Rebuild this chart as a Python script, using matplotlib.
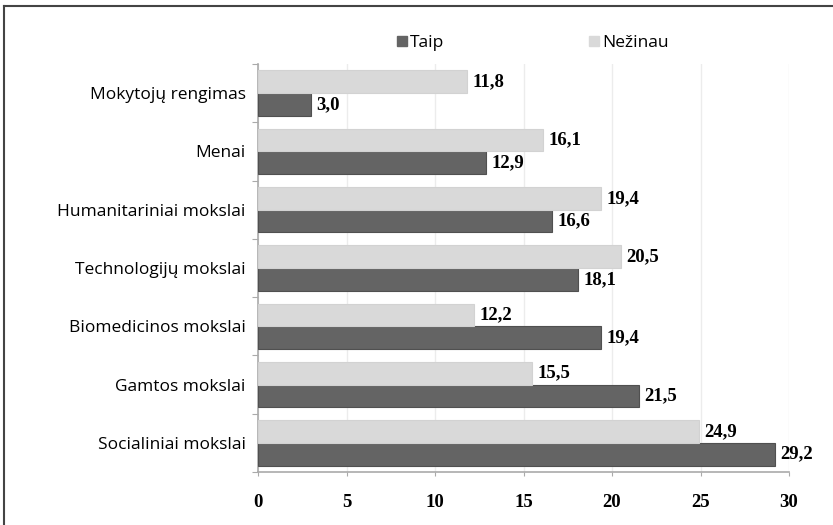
import numpy as np
import matplotlib
matplotlib.use("Agg")
import matplotlib.pyplot as plt
from matplotlib.lines import Line2D

categories = ["Socialiniai mokslai", "Gamtos mokslai", "Biomedicinos mokslai",
              "Technologijų mokslai", "Humanitariniai mokslai", "Menai",
              "Mokytojų rengimas"]
taip = [29.2, 21.5, 19.4, 18.1, 16.6, 12.9, 3.0]
nezinau = [24.9, 15.5, 12.2, 20.5, 19.4, 16.1, 11.8]
xticks = [0, 5, 10, 15, 20, 25, 30]

dark = "#646464"
light = "#d9d9d9"

W, H = 833, 525
fig = plt.figure(figsize=(W / 100, H / 100), dpi=100)
# axes box in pixels: x 258..789, y 64..472
ax = fig.add_axes([258 / W, 1 - 472 / H, (789 - 258) / W, (472 - 64) / H])

y = np.arange(len(categories))
h = 0.39
ax.barh(y - h / 2, taip, height=h, color=dark, edgecolor="#505050", linewidth=0.8,
        label="Taip", zorder=3)
ax.barh(y + h / 2, nezinau, height=h, color=light, edgecolor="#d2d2d2", linewidth=0.8,
        label="Nežinau", zorder=3)

vfont = dict(family="Liberation Serif", weight="bold", size=13.5)
for i in range(len(categories)):
    ax.text(taip[i] + 0.3, y[i] - h / 2, f"{taip[i]:.1f}".replace(".", ","),
            va="center", ha="left", **vfont)
    ax.text(nezinau[i] + 0.3, y[i] + h / 2, f"{nezinau[i]:.1f}".replace(".", ","),
            va="center", ha="left", **vfont)

ax.set_xlim(0, 30)
ax.set_ylim(-0.5, len(categories) - 0.5)
ax.set_xticks(xticks)
ax.set_xticklabels([str(t) for t in xticks], fontfamily="Liberation Serif",
                   fontweight="bold", fontsize=13.5)
ax.set_yticks(np.arange(-0.5, len(categories), 1), minor=False)
ax.set_yticklabels([])
ax.set_yticks(y, minor=True)
ax.set_yticklabels(categories, minor=True, fontfamily="Open Sans", fontsize=12.5)
ax.tick_params(axis="y", which="minor", length=0, pad=9)
ax.tick_params(axis="y", which="major", length=4, color="#aaaaaa", direction="out")
ax.tick_params(axis="x", length=3, color="#aaaaaa", pad=13)
ax.grid(axis="x", color="#ececec", linewidth=1, zorder=0)
for s in ["top", "right"]:
    ax.spines[s].set_visible(False)
for s in ["left", "bottom"]:
    ax.spines[s].set_color("#aaaaaa")
    ax.spines[s].set_linewidth(1.2)

handles = [Line2D([], [], marker="s", linestyle="", color=dark, markersize=7.2),
           Line2D([], [], marker="s", linestyle="", color=light, markersize=7.2)]
fig.legend(handles, ["Taip", "Nežinau"], loc="center left",
           bbox_to_anchor=(393 / W, 1 - 43 / H), ncol=2, frameon=False,
           prop=dict(family="Open Sans", size=12.5), borderpad=0, borderaxespad=0,
           handletextpad=0.0, columnspacing=8.1, handlelength=1.0)

fig.add_artist(Line2D([4 / W, 4 / W], [0, 1 - 6 / H], color="#444444", linewidth=1.5))
fig.add_artist(Line2D([4 / W, 1], [1 - 6 / H, 1 - 6 / H], color="#444444", linewidth=1.5))

fig.savefig("out.png", dpi=100)
